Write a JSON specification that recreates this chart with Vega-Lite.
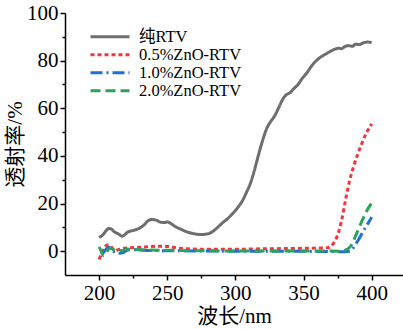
{
  "$schema": "https://vega.github.io/schema/vega-lite/v6.json",
  "autosize": "none",
  "padding": {"left": 65, "top": 13, "right": 0, "bottom": 54},
  "width": 338,
  "height": 262,
  "background": "white",
  "config": {
    "view": {"stroke": null},
    "font": "Liberation Serif",
    "axis": {
      "domainColor": "black",
      "domainWidth": 1.5,
      "tickColor": "black",
      "tickWidth": 1.5,
      "grid": false,
      "labelColor": "black",
      "titleColor": "black"
    },
    "legend": {
      "labelColor": "black"
    }
  },
  "data": {
    "values": [
      {"w": 200, "T": 5.8, "s": "纯RTV"},
      {"w": 203, "T": 7.0, "s": "纯RTV"},
      {"w": 205, "T": 8.5, "s": "纯RTV"},
      {"w": 207, "T": 9.5, "s": "纯RTV"},
      {"w": 209, "T": 9.3, "s": "纯RTV"},
      {"w": 211, "T": 8.2, "s": "纯RTV"},
      {"w": 214, "T": 7.3, "s": "纯RTV"},
      {"w": 217, "T": 6.3, "s": "纯RTV"},
      {"w": 219, "T": 7.0, "s": "纯RTV"},
      {"w": 221, "T": 8.0, "s": "纯RTV"},
      {"w": 225, "T": 8.7, "s": "纯RTV"},
      {"w": 229, "T": 9.5, "s": "纯RTV"},
      {"w": 233, "T": 11.0, "s": "纯RTV"},
      {"w": 236, "T": 12.8, "s": "纯RTV"},
      {"w": 239, "T": 13.3, "s": "纯RTV"},
      {"w": 242, "T": 13.0, "s": "纯RTV"},
      {"w": 245, "T": 12.2, "s": "纯RTV"},
      {"w": 248, "T": 12.0, "s": "纯RTV"},
      {"w": 250, "T": 12.3, "s": "纯RTV"},
      {"w": 253, "T": 11.5, "s": "纯RTV"},
      {"w": 256, "T": 10.3, "s": "纯RTV"},
      {"w": 260, "T": 9.2, "s": "纯RTV"},
      {"w": 265, "T": 8.0, "s": "纯RTV"},
      {"w": 270, "T": 7.3, "s": "纯RTV"},
      {"w": 275, "T": 7.0, "s": "纯RTV"},
      {"w": 280, "T": 7.3, "s": "纯RTV"},
      {"w": 283, "T": 8.1, "s": "纯RTV"},
      {"w": 287, "T": 10.0, "s": "纯RTV"},
      {"w": 290, "T": 11.6, "s": "纯RTV"},
      {"w": 294, "T": 13.5, "s": "纯RTV"},
      {"w": 298, "T": 15.8, "s": "纯RTV"},
      {"w": 302, "T": 18.5, "s": "纯RTV"},
      {"w": 305, "T": 21.0, "s": "纯RTV"},
      {"w": 308, "T": 24.5, "s": "纯RTV"},
      {"w": 311, "T": 28.5, "s": "纯RTV"},
      {"w": 314, "T": 34.0, "s": "纯RTV"},
      {"w": 317, "T": 40.5, "s": "纯RTV"},
      {"w": 320, "T": 46.5, "s": "纯RTV"},
      {"w": 323, "T": 51.5, "s": "纯RTV"},
      {"w": 326, "T": 54.5, "s": "纯RTV"},
      {"w": 329, "T": 57.0, "s": "纯RTV"},
      {"w": 332, "T": 60.5, "s": "纯RTV"},
      {"w": 335, "T": 64.0, "s": "纯RTV"},
      {"w": 337, "T": 65.5, "s": "纯RTV"},
      {"w": 340, "T": 66.5, "s": "纯RTV"},
      {"w": 343, "T": 68.3, "s": "纯RTV"},
      {"w": 346, "T": 70.0, "s": "纯RTV"},
      {"w": 349, "T": 72.5, "s": "纯RTV"},
      {"w": 352, "T": 74.5, "s": "纯RTV"},
      {"w": 355, "T": 77.0, "s": "纯RTV"},
      {"w": 358, "T": 79.2, "s": "纯RTV"},
      {"w": 361, "T": 80.8, "s": "纯RTV"},
      {"w": 364, "T": 82.0, "s": "纯RTV"},
      {"w": 367, "T": 83.0, "s": "纯RTV"},
      {"w": 370, "T": 84.0, "s": "纯RTV"},
      {"w": 373, "T": 84.8, "s": "纯RTV"},
      {"w": 376, "T": 85.2, "s": "纯RTV"},
      {"w": 378, "T": 85.0, "s": "纯RTV"},
      {"w": 380, "T": 85.8, "s": "纯RTV"},
      {"w": 383, "T": 86.3, "s": "纯RTV"},
      {"w": 386, "T": 86.0, "s": "纯RTV"},
      {"w": 388, "T": 86.9, "s": "纯RTV"},
      {"w": 391, "T": 86.8, "s": "纯RTV"},
      {"w": 394, "T": 87.5, "s": "纯RTV"},
      {"w": 397, "T": 87.8, "s": "纯RTV"},
      {"w": 400, "T": 87.6, "s": "纯RTV"},

      {"w": 200, "T": -3.4, "s": "0.5%ZnO-RTV"},
      {"w": 202, "T": -1.0, "s": "0.5%ZnO-RTV"},
      {"w": 204, "T": 1.5, "s": "0.5%ZnO-RTV"},
      {"w": 206, "T": 2.6, "s": "0.5%ZnO-RTV"},
      {"w": 208, "T": 2.4, "s": "0.5%ZnO-RTV"},
      {"w": 210, "T": 1.0, "s": "0.5%ZnO-RTV"},
      {"w": 212, "T": 0.3, "s": "0.5%ZnO-RTV"},
      {"w": 214, "T": 0.6, "s": "0.5%ZnO-RTV"},
      {"w": 217, "T": 1.1, "s": "0.5%ZnO-RTV"},
      {"w": 222, "T": 1.4, "s": "0.5%ZnO-RTV"},
      {"w": 230, "T": 1.6, "s": "0.5%ZnO-RTV"},
      {"w": 237, "T": 1.9, "s": "0.5%ZnO-RTV"},
      {"w": 245, "T": 2.1, "s": "0.5%ZnO-RTV"},
      {"w": 250, "T": 2.0, "s": "0.5%ZnO-RTV"},
      {"w": 258, "T": 1.3, "s": "0.5%ZnO-RTV"},
      {"w": 265, "T": 1.0, "s": "0.5%ZnO-RTV"},
      {"w": 275, "T": 0.8, "s": "0.5%ZnO-RTV"},
      {"w": 290, "T": 0.8, "s": "0.5%ZnO-RTV"},
      {"w": 300, "T": 0.8, "s": "0.5%ZnO-RTV"},
      {"w": 310, "T": 0.9, "s": "0.5%ZnO-RTV"},
      {"w": 320, "T": 1.0, "s": "0.5%ZnO-RTV"},
      {"w": 335, "T": 1.1, "s": "0.5%ZnO-RTV"},
      {"w": 350, "T": 1.2, "s": "0.5%ZnO-RTV"},
      {"w": 360, "T": 1.3, "s": "0.5%ZnO-RTV"},
      {"w": 367, "T": 1.4, "s": "0.5%ZnO-RTV"},
      {"w": 370, "T": 2.0, "s": "0.5%ZnO-RTV"},
      {"w": 372, "T": 3.3, "s": "0.5%ZnO-RTV"},
      {"w": 374, "T": 5.3, "s": "0.5%ZnO-RTV"},
      {"w": 376, "T": 8.5, "s": "0.5%ZnO-RTV"},
      {"w": 378, "T": 13.0, "s": "0.5%ZnO-RTV"},
      {"w": 381, "T": 22.0, "s": "0.5%ZnO-RTV"},
      {"w": 384, "T": 30.0, "s": "0.5%ZnO-RTV"},
      {"w": 387, "T": 36.0, "s": "0.5%ZnO-RTV"},
      {"w": 390, "T": 41.0, "s": "0.5%ZnO-RTV"},
      {"w": 393, "T": 45.5, "s": "0.5%ZnO-RTV"},
      {"w": 396, "T": 49.5, "s": "0.5%ZnO-RTV"},
      {"w": 398, "T": 51.5, "s": "0.5%ZnO-RTV"},
      {"w": 400, "T": 53.5, "s": "0.5%ZnO-RTV"},

      {"w": 202, "T": -1.5, "s": "1.0%ZnO-RTV"},
      {"w": 204, "T": 0.0, "s": "1.0%ZnO-RTV"},
      {"w": 207, "T": 1.6, "s": "1.0%ZnO-RTV"},
      {"w": 209, "T": 0.8, "s": "1.0%ZnO-RTV"},
      {"w": 211, "T": -0.2, "s": "1.0%ZnO-RTV"},
      {"w": 215, "T": -0.9, "s": "1.0%ZnO-RTV"},
      {"w": 218, "T": -0.5, "s": "1.0%ZnO-RTV"},
      {"w": 221, "T": 0.5, "s": "1.0%ZnO-RTV"},
      {"w": 225, "T": 0.6, "s": "1.0%ZnO-RTV"},
      {"w": 235, "T": 0.3, "s": "1.0%ZnO-RTV"},
      {"w": 250, "T": 0.2, "s": "1.0%ZnO-RTV"},
      {"w": 270, "T": 0.1, "s": "1.0%ZnO-RTV"},
      {"w": 300, "T": 0.0, "s": "1.0%ZnO-RTV"},
      {"w": 330, "T": 0.0, "s": "1.0%ZnO-RTV"},
      {"w": 360, "T": -0.1, "s": "1.0%ZnO-RTV"},
      {"w": 380, "T": -0.2, "s": "1.0%ZnO-RTV"},
      {"w": 384, "T": 0.0, "s": "1.0%ZnO-RTV"},
      {"w": 386, "T": 1.0, "s": "1.0%ZnO-RTV"},
      {"w": 388, "T": 2.8, "s": "1.0%ZnO-RTV"},
      {"w": 390, "T": 4.5, "s": "1.0%ZnO-RTV"},
      {"w": 393, "T": 7.5, "s": "1.0%ZnO-RTV"},
      {"w": 396, "T": 10.5, "s": "1.0%ZnO-RTV"},
      {"w": 398, "T": 12.3, "s": "1.0%ZnO-RTV"},
      {"w": 400, "T": 14.3, "s": "1.0%ZnO-RTV"},

      {"w": 200, "T": 1.8, "s": "2.0%ZnO-RTV"},
      {"w": 201.5, "T": 0.0, "s": "2.0%ZnO-RTV"},
      {"w": 203, "T": -1.8, "s": "2.0%ZnO-RTV"},
      {"w": 205, "T": -0.8, "s": "2.0%ZnO-RTV"},
      {"w": 207, "T": 0.8, "s": "2.0%ZnO-RTV"},
      {"w": 209, "T": 1.2, "s": "2.0%ZnO-RTV"},
      {"w": 211, "T": 0.5, "s": "2.0%ZnO-RTV"},
      {"w": 214, "T": 0.0, "s": "2.0%ZnO-RTV"},
      {"w": 217, "T": 0.3, "s": "2.0%ZnO-RTV"},
      {"w": 221, "T": 0.9, "s": "2.0%ZnO-RTV"},
      {"w": 225, "T": 0.7, "s": "2.0%ZnO-RTV"},
      {"w": 235, "T": 0.5, "s": "2.0%ZnO-RTV"},
      {"w": 250, "T": 0.4, "s": "2.0%ZnO-RTV"},
      {"w": 270, "T": 0.2, "s": "2.0%ZnO-RTV"},
      {"w": 300, "T": 0.1, "s": "2.0%ZnO-RTV"},
      {"w": 330, "T": 0.1, "s": "2.0%ZnO-RTV"},
      {"w": 360, "T": 0.1, "s": "2.0%ZnO-RTV"},
      {"w": 378, "T": 0.0, "s": "2.0%ZnO-RTV"},
      {"w": 381, "T": 0.5, "s": "2.0%ZnO-RTV"},
      {"w": 383, "T": 1.2, "s": "2.0%ZnO-RTV"},
      {"w": 385, "T": 2.5, "s": "2.0%ZnO-RTV"},
      {"w": 387, "T": 4.8, "s": "2.0%ZnO-RTV"},
      {"w": 390, "T": 8.8, "s": "2.0%ZnO-RTV"},
      {"w": 393, "T": 12.8, "s": "2.0%ZnO-RTV"},
      {"w": 396, "T": 16.5, "s": "2.0%ZnO-RTV"},
      {"w": 398, "T": 18.5, "s": "2.0%ZnO-RTV"},
      {"w": 400, "T": 20.2, "s": "2.0%ZnO-RTV"}
    ]
  },
  "mark": {"type": "line", "strokeWidth": 3, "interpolate": "monotone", "clip": true},
  "encoding": {
    "x": {
      "field": "w",
      "type": "quantitative",
      "scale": {"domain": [175, 423], "nice": false, "zero": false},
      "axis": {
        "title": "波长/nm",
        "values": [200, 225, 250, 275, 300, 325, 350, 375, 400],
        "labelExpr": "datum.value % 50 === 0 ? datum.label : ''",
        "tickSize": {"condition": {"test": "datum.value % 50 === 0", "value": 5}, "value": 3},
        "labelFont": "Liberation Serif",
        "labelFontSize": 21,
        "titleFont": "Liberation Serif, Noto Sans CJK SC",
        "titleFontSize": 21,
        "titleFontWeight": "normal",
        "labelPadding": 2,
        "titlePadding": 2
      }
    },
    "y": {
      "field": "T",
      "type": "quantitative",
      "scale": {"domain": [-10, 100], "nice": false, "zero": false},
      "axis": {
        "title": "透射率/%",
        "values": [0, 10, 20, 30, 40, 50, 60, 70, 80, 90, 100],
        "labelExpr": "datum.value % 20 === 0 ? datum.label : ''",
        "tickSize": {"condition": {"test": "datum.value % 20 === 0", "value": 5}, "value": 3},
        "labelFont": "Liberation Serif",
        "labelFontSize": 21,
        "titleFont": "Liberation Serif, Noto Sans CJK SC",
        "titleFontSize": 21,
        "titleFontWeight": "normal",
        "labelPadding": 2,
        "titlePadding": 1
      }
    },
    "color": {
      "field": "s",
      "type": "nominal",
      "scale": {
        "domain": ["纯RTV", "0.5%ZnO-RTV", "1.0%ZnO-RTV", "2.0%ZnO-RTV"],
        "range": ["#6e6e6e", "#f2343c", "#1f6fdb", "#2ca25c"]
      },
      "legend": {
        "title": null,
        "orient": "none",
        "legendX": 24,
        "legendY": 17,
        "padding": 0,
        "symbolType": "stroke",
        "symbolSize": 1521,
        "symbolStrokeWidth": 3,
        "clipHeight": 13.5,
        "rowPadding": 0,
        "labelOffset": 8,
        "labelFont": "Liberation Serif, Noto Sans CJK SC",
        "labelFontSize": 16.5
      }
    },
    "strokeDash": {
      "field": "s",
      "type": "nominal",
      "scale": {
        "domain": ["纯RTV", "0.5%ZnO-RTV", "1.0%ZnO-RTV", "2.0%ZnO-RTV"],
        "range": [[1, 0], [4, 3], [12, 4, 2, 4], [10, 5]]
      },
      "legend": {
        "title": null,
        "orient": "none",
        "legendX": 24,
        "legendY": 17,
        "padding": 0,
        "symbolType": "stroke",
        "symbolSize": 1521,
        "symbolStrokeWidth": 3,
        "clipHeight": 13.5,
        "rowPadding": 0,
        "labelOffset": 8,
        "labelFont": "Liberation Serif, Noto Sans CJK SC",
        "labelFontSize": 16.5
      }
    }
  }
}
